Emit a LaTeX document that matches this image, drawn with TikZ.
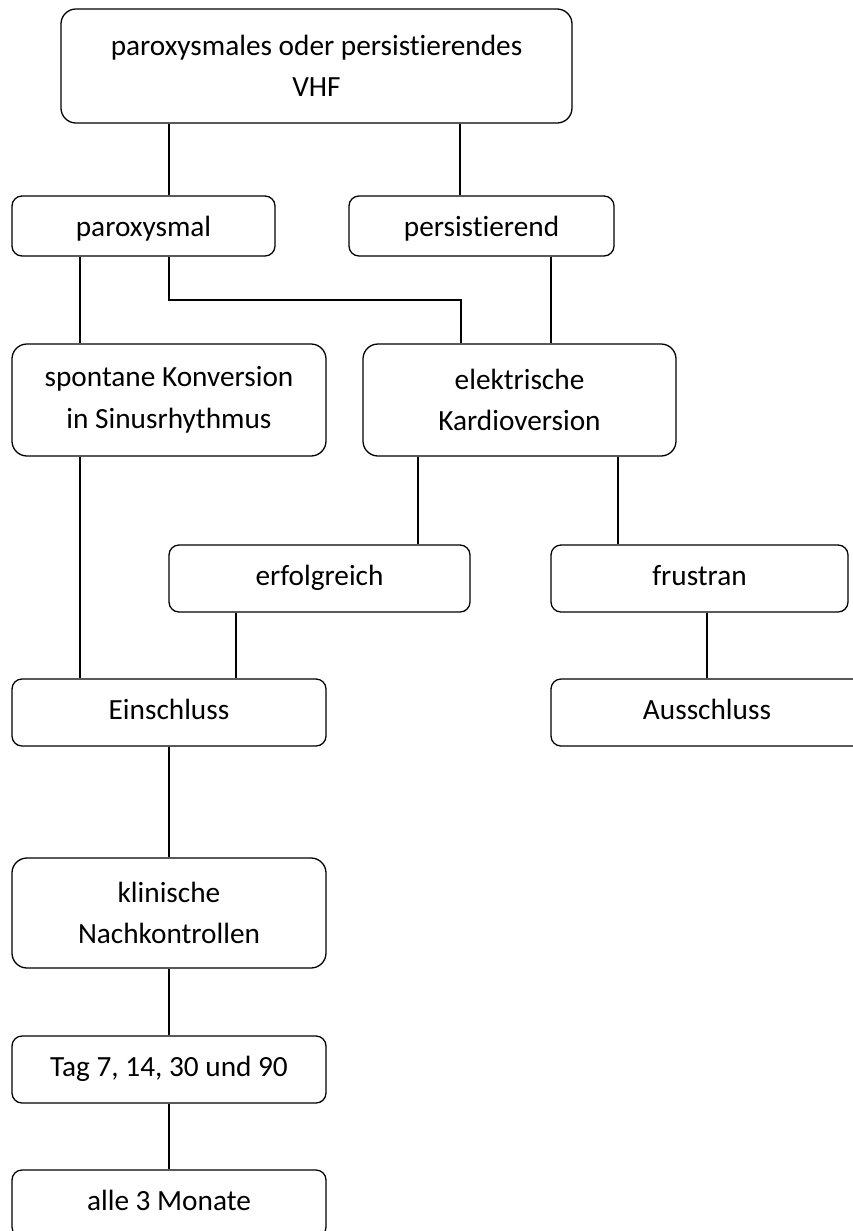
\documentclass[tikz,border=0pt]{standalone}
\usepackage{fontspec}
\setmainfont{Carlito}[Ligatures={NoCommon}]
\usetikzlibrary{positioning}

\tikzset{
  box/.style={draw, line width=1.1pt, rounded corners=0.3cm, align=center,
              inner sep=0pt, font=\fontsize{25}{35.5}\selectfont},
  tallbox/.style={box, rounded corners=0.45cm},
  onerow/.style={box, text height=18.75pt, text depth=6.75pt},
  lowrow/.style={box, text height=22.5pt, text depth=5pt},
  link/.style={line width=0.9pt},
}

\begin{document}
\begin{tikzpicture}[x=0.03cm, y=-0.03cm]
        \useasboundingbox (0,0) rectangle (853,1231);

        \node[tallbox, minimum width=15.33cm, minimum height=3.42cm] (vhf) at (316.5,66)
              {paroxysmales oder persistierendes\\VHF};

        \node[lowrow, minimum width=7.89cm, minimum height=1.8cm] (parox) at (143.5,226) {paroxysmal};
        \node[lowrow, minimum width=7.95cm, minimum height=1.8cm] (pers)  at (481.5,226) {persistierend};

        \node[tallbox, minimum width=9.42cm, minimum height=3.36cm] (spont) at (169,400)
              {spontane Konversion\\in Sinusrhythmus};
        \node[tallbox, minimum width=9.39cm, minimum height=3.36cm] (ekv) at (519.5,400)
              {elektrische\\Kardioversion};

        \node[onerow, minimum width=9.03cm, minimum height=2.01cm] (erf)  at (319.5,578.5) {erfolgreich};
        \node[onerow, minimum width=8.91cm, minimum height=2.01cm] (frus) at (699.5,578.5) {frustran};

        \node[onerow, minimum width=9.42cm, minimum height=2.01cm] (ein) at (169,712.5) {Einschluss};
        \node[onerow, minimum width=9.36cm, minimum height=2.01cm] (aus) at (707,712.5) {Ausschluss};

        \node[tallbox, minimum width=9.42cm, minimum height=3.3cm] (klin) at (169,913)
              {klinische\\Nachkontrollen};
        \node[onerow, minimum width=9.42cm, minimum height=2.01cm] (tag)  at (169,1069.5) {Tag 7, 14, 30 und 90};
        \node[onerow, minimum width=9.42cm, minimum height=2.01cm] (alle) at (169,1203.5) {alle 3 Monate};

        \draw[link] (vhf.south -| 169,0) -- (parox.north -| 169,0);
        \draw[link] (vhf.south -| 460,0) -- (pers.north -| 460,0);

        \draw[link] (parox.south -| 80,0) -- (spont.north -| 80,0);
        \draw[link] (parox.south -| 169,0) -- (169,300) -- (461,300) -- (ekv.north -| 461,0);
        \draw[link] (pers.south -| 551,0) -- (ekv.north -| 551,0);

        \draw[link] (ekv.south -| 418,0) -- (erf.north -| 418,0);
        \draw[link] (ekv.south -| 618,0) -- (frus.north -| 618,0);

        \draw[link] (spont.south -| 80,0) -- (ein.north -| 80,0);
        \draw[link] (erf.south -| 236,0) -- (ein.north -| 236,0);
        \draw[link] (frus.south -| 707,0) -- (aus.north -| 707,0);

        \draw[link] (ein) -- (klin);
        \draw[link] (klin) -- (tag);
        \draw[link] (tag) -- (alle);
\end{tikzpicture}
\end{document}
